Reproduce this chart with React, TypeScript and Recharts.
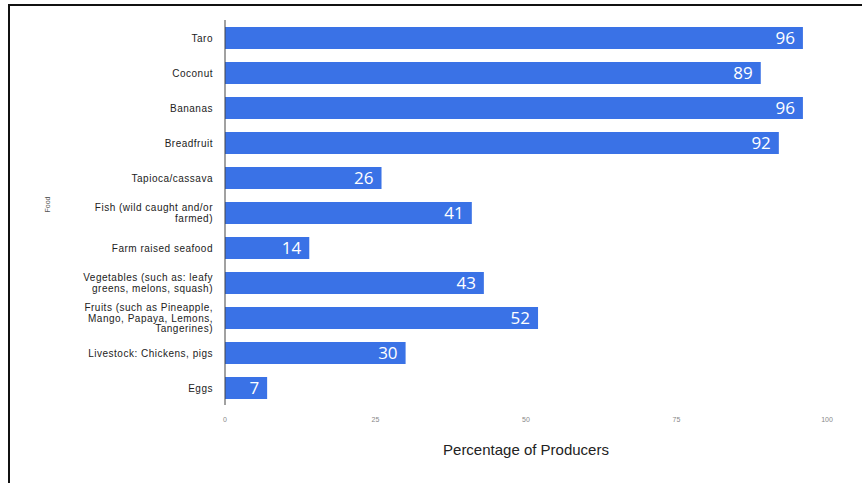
import React from 'react';
import { BarChart, Bar, XAxis, YAxis, LabelList } from 'recharts';

const foods = [
  'Taro',
  'Coconut',
  'Bananas',
  'Breadfruit',
  'Tapioca/cassava',
  'Fish (wild caught and/or\nfarmed)',
  'Farm raised seafood',
  'Vegetables (such as: leafy\ngreens, melons, squash)',
  'Fruits (such as Pineapple,\nMango, Papaya, Lemons,\nTangerines)',
  'Livestock: Chickens, pigs',
  'Eggs',
];
const producers = [96, 89, 96, 92, 26, 41, 14, 43, 52, 30, 7];
const xTicks = [0, 25, 50, 75, 100];

const data = foods.map((food, i) => ({ food, value: producers[i] }));

const FoodTick = (props: any) => {
  const { x, y, payload } = props;
  const lines: string[] = String(payload.value).split('\n');
  const lineH = 10.5;
  const start = y - ((lines.length - 1) * lineH) / 2;
  return (
    <text
      x={x}
      y={start}
      textAnchor="end"
      dominantBaseline="central"
      fontSize={10}
      letterSpacing={0.5}
      fontFamily="'Liberation Sans', Arial, sans-serif"
      fill="#222"
    >
      {lines.map((l, i) => (
        <tspan key={i} x={x} y={start + i * lineH} dominantBaseline="central">
          {l}
        </tspan>
      ))}
    </text>
  );
};

const App: React.FC = () => {
  return (
    <div style={{ position: 'fixed', left: 0, top: 0, width: 862, height: 483, background: '#fff' }}>
      <div style={{ position: 'absolute', left: 8, top: 4, width: 854, height: 2, background: '#111' }} />
      <div style={{ position: 'absolute', left: 8, top: 4, width: 2, height: 479, background: '#111' }} />
      <BarChart
        width={862}
        height={483}
        data={data}
        layout="vertical"
        margin={{ top: 20, right: 35, left: 30, bottom: 26 }}
        barSize={22}
      >
        <XAxis
          type="number"
          domain={[0, 100]}
          ticks={xTicks}
          axisLine={false}
          tickLine={false}
          tickMargin={6}
          tick={{ fontSize: 7, fill: '#888', fontFamily: "'Liberation Sans', Arial, sans-serif" }}
          height={52}
          label={{
            value: 'Percentage of Producers',
            position: 'insideBottom',
            offset: 2,
            fontSize: 15,
            fill: '#222',
            fontFamily: "'Liberation Sans', Arial, sans-serif",
          }}
        />
        <YAxis
          type="category"
          dataKey="food"
          width={195}
          tickLine={false}
          axisLine={{ stroke: '#444' }}
          tick={<FoodTick />}
          tickMargin={6}
          interval={0}
          label={{
            value: 'Food',
            angle: -90,
            position: 'insideLeft',
            offset: 18,
            fontSize: 7,
            fill: '#555',
            fontFamily: "'Liberation Sans', Arial, sans-serif",
          }}
        />
        <Bar dataKey="value" fill="#3a72e6" isAnimationActive={false}>
          <LabelList
            dataKey="value"
            position="insideRight"
            offset={8}
            fill="#fff"
            fontSize={17}
            fontFamily="'Open Sans', sans-serif"
          />
        </Bar>
      </BarChart>
    </div>
  );
};

export default App;
